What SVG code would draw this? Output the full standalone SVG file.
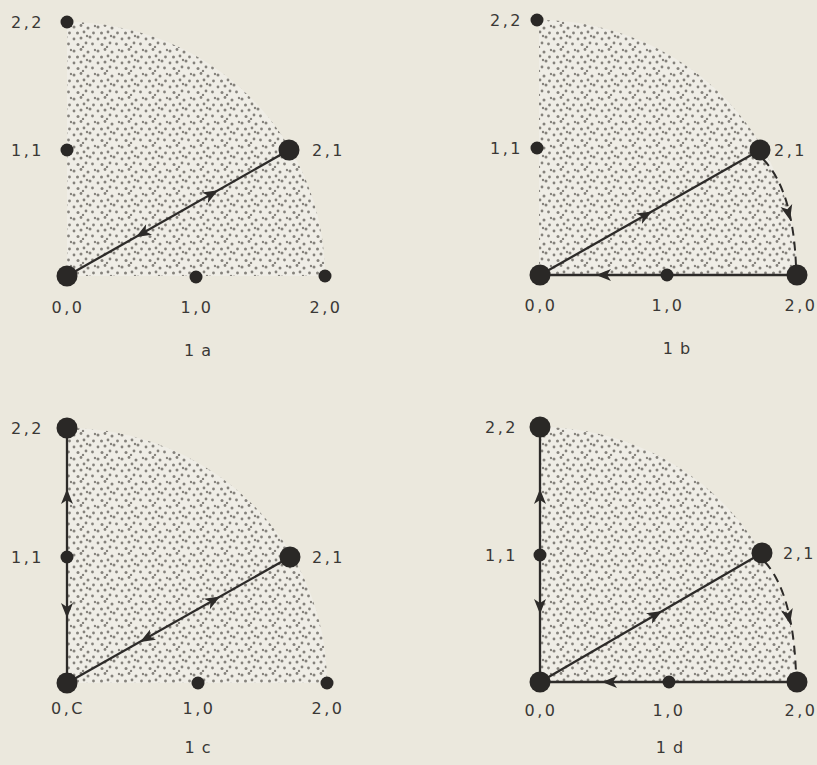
<svg xmlns="http://www.w3.org/2000/svg" xmlns:xlink="http://www.w3.org/1999/xlink" width="817" height="765" viewBox="0 0 817 765">
<style>
.bg{fill:#ebe8dd}
.region{fill:url(#stip)}
.ln{stroke:#2d2b29;stroke-width:2.3;fill:none}
.dash{stroke:#2d2b29;stroke-width:2;fill:none;stroke-dasharray:9 6}
.big{fill:#2a2826}
.sm{fill:#2a2826}
.lbl{font-family:"DejaVu Sans","Liberation Sans",sans-serif;font-size:16px;fill:#3a3836;letter-spacing:2.5px}
.cap{font-family:"DejaVu Sans","Liberation Sans",sans-serif;font-size:16px;fill:#3a3836;text-anchor:middle;letter-spacing:1px}
.ah{fill:#2d2b29}
</style>
<defs>
<pattern id="stip" width="24" height="24" patternUnits="userSpaceOnUse">
<rect width="24" height="24" fill="#efede6"/>
<g fill="#85827c">
<circle cx="2" cy="3" r="1.5"/><circle cx="9" cy="1.5" r="1.4"/><circle cx="16" cy="4" r="1.5"/><circle cx="21.5" cy="9" r="1.4"/>
<circle cx="5.5" cy="9" r="1.5"/><circle cx="12" cy="8" r="1.4"/><circle cx="18" cy="13" r="1.5"/><circle cx="2" cy="15" r="1.4"/>
<circle cx="9" cy="14" r="1.5"/><circle cx="14" cy="19" r="1.4"/><circle cx="6" cy="20.5" r="1.5"/><circle cx="20.5" cy="20" r="1.4"/>
<circle cx="23" cy="2" r="1.2"/><circle cx="11" cy="23" r="1.2"/><circle cx="15" cy="12" r="1.2"/>
</g>
</pattern>
<path id="ah" d="M0,0 L-15,-6 L-11,0 L-15,6 Z"/>
</defs>
<rect class="bg" width="817" height="765"/>

<!-- Panel 1a -->
<g id="panel-a">
<path class="region" d="M67,22 A258 254 0 0 1 325,276 L67,276 Z"/>
<g id="connectors-a">
<line class="ln" x1="67" y1="276" x2="289" y2="150"/>
<use href="#ah" class="ah" transform="translate(218,190.3) rotate(-29.6)"/>
<use href="#ah" class="ah" transform="translate(136,237) rotate(150.4)"/>
</g>
<g id="a-22"><circle class="sm" cx="67" cy="22" r="6.5"/><text class="lbl" x="44" y="28" text-anchor="end">2,2</text></g>
<g id="a-11"><circle class="sm" cx="67" cy="150" r="6.5"/><text class="lbl" x="44" y="156" text-anchor="end">1,1</text></g>
<g id="a-21"><circle class="big" cx="289" cy="150" r="10.5"/><text class="lbl" x="312" y="156">2,1</text></g>
<g id="a-00"><circle class="big" cx="67" cy="276" r="10.5"/><text class="lbl" x="68" y="313" text-anchor="middle">0,0</text></g>
<g id="a-10"><circle class="sm" cx="196" cy="277" r="6.5"/><text class="lbl" x="197" y="313" text-anchor="middle">1,0</text></g>
<g id="a-20"><circle class="sm" cx="325" cy="276" r="6.5"/><text class="lbl" x="326" y="313" text-anchor="middle">2,0</text></g>
<text class="cap" x="198" y="356">1 a</text>
</g>

<!-- Panel 1b -->
<g id="panel-b">
<path class="region" d="M539,20 A258 255 0 0 1 797,275 L539,275 Z"/>
<g id="connectors-b">
<line class="ln" x1="540" y1="275" x2="760" y2="150"/>
<line class="ln" x1="797" y1="275" x2="540" y2="275"/>
<path class="dash" d="M763,159 Q793,190 796,266"/>
<use href="#ah" class="ah" transform="translate(652,211.4) rotate(-29.6)"/>
<use href="#ah" class="ah" transform="translate(596,275) rotate(180)"/>
<use href="#ah" class="ah" transform="translate(790,220) rotate(76)"/>
</g>
<g id="b-22"><circle class="sm" cx="537" cy="20" r="6.5"/><text class="lbl" x="523" y="26" text-anchor="end">2,2</text></g>
<g id="b-11"><circle class="sm" cx="537" cy="148" r="6.5"/><text class="lbl" x="523" y="154" text-anchor="end">1,1</text></g>
<g id="b-21"><circle class="big" cx="760" cy="150" r="10.5"/><text class="lbl" x="774" y="156">2,1</text></g>
<g id="b-00"><circle class="big" cx="540" cy="275" r="10.5"/><text class="lbl" x="541" y="311" text-anchor="middle">0,0</text></g>
<g id="b-10"><circle class="sm" cx="667" cy="275" r="6.5"/><text class="lbl" x="668" y="311" text-anchor="middle">1,0</text></g>
<g id="b-20"><circle class="big" cx="797" cy="275" r="10.5"/><text class="lbl" x="801" y="311" text-anchor="middle">2,0</text></g>
<text class="cap" x="677" y="354">1 b</text>
</g>

<!-- Panel 1c -->
<g id="panel-c">
<path class="region" d="M67,428 A260 255 0 0 1 327,683 L67,683 Z"/>
<g id="connectors-c">
<line class="ln" x1="67" y1="683" x2="67" y2="428"/>
<line class="ln" x1="67" y1="683" x2="290" y2="557"/>
<use href="#ah" class="ah" transform="translate(67,489) rotate(-90)"/>
<use href="#ah" class="ah" transform="translate(67,618) rotate(90)"/>
<use href="#ah" class="ah" transform="translate(220,596.6) rotate(-29.5)"/>
<use href="#ah" class="ah" transform="translate(140,642) rotate(150.5)"/>
</g>
<g id="c-22"><circle class="big" cx="67" cy="428" r="10.5"/><text class="lbl" x="44" y="434" text-anchor="end">2,2</text></g>
<g id="c-11"><circle class="sm" cx="67" cy="557" r="6.5"/><text class="lbl" x="44" y="563" text-anchor="end">1,1</text></g>
<g id="c-21"><circle class="big" cx="290" cy="557" r="10.5"/><text class="lbl" x="312" y="563">2,1</text></g>
<g id="c-00"><circle class="big" cx="67" cy="683" r="10.5"/><text class="lbl" x="68" y="714" text-anchor="middle">0,C</text></g>
<g id="c-10"><circle class="sm" cx="198" cy="683" r="6.5"/><text class="lbl" x="199" y="714" text-anchor="middle">1,0</text></g>
<g id="c-20"><circle class="sm" cx="327" cy="683" r="6.5"/><text class="lbl" x="328" y="714" text-anchor="middle">2,0</text></g>
<text class="cap" x="198" y="753">1 c</text>
</g>

<!-- Panel 1d -->
<g id="panel-d">
<path class="region" d="M540,427 A257 255 0 0 1 797,682 L540,682 Z"/>
<g id="connectors-d">
<line class="ln" x1="540" y1="682" x2="540" y2="427"/>
<line class="ln" x1="540" y1="682" x2="762" y2="553"/>
<line class="ln" x1="797" y1="682" x2="540" y2="682"/>
<path class="dash" d="M765,562 Q793,593 796,673"/>
<use href="#ah" class="ah" transform="translate(540,489) rotate(-90)"/>
<use href="#ah" class="ah" transform="translate(540,614) rotate(90)"/>
<use href="#ah" class="ah" transform="translate(662,611) rotate(-30.2)"/>
<use href="#ah" class="ah" transform="translate(602,682) rotate(180)"/>
<use href="#ah" class="ah" transform="translate(790,624) rotate(78)"/>
</g>
<g id="d-22"><circle class="big" cx="540" cy="427" r="10.5"/><text class="lbl" x="518" y="433" text-anchor="end">2,2</text></g>
<g id="d-11"><circle class="sm" cx="540" cy="555" r="6.5"/><text class="lbl" x="518" y="561" text-anchor="end">1,1</text></g>
<g id="d-21"><circle class="big" cx="762" cy="553" r="10.5"/><text class="lbl" x="783" y="559">2,1</text></g>
<g id="d-00"><circle class="big" cx="540" cy="682" r="10.5"/><text class="lbl" x="541" y="716" text-anchor="middle">0,0</text></g>
<g id="d-10"><circle class="sm" cx="669" cy="682" r="6.5"/><text class="lbl" x="669" y="716" text-anchor="middle">1,0</text></g>
<g id="d-20"><circle class="big" cx="797" cy="682" r="10.5"/><text class="lbl" x="801" y="716" text-anchor="middle">2,0</text></g>
<text class="cap" x="670" y="753">1 d</text>
</g>
</svg>
